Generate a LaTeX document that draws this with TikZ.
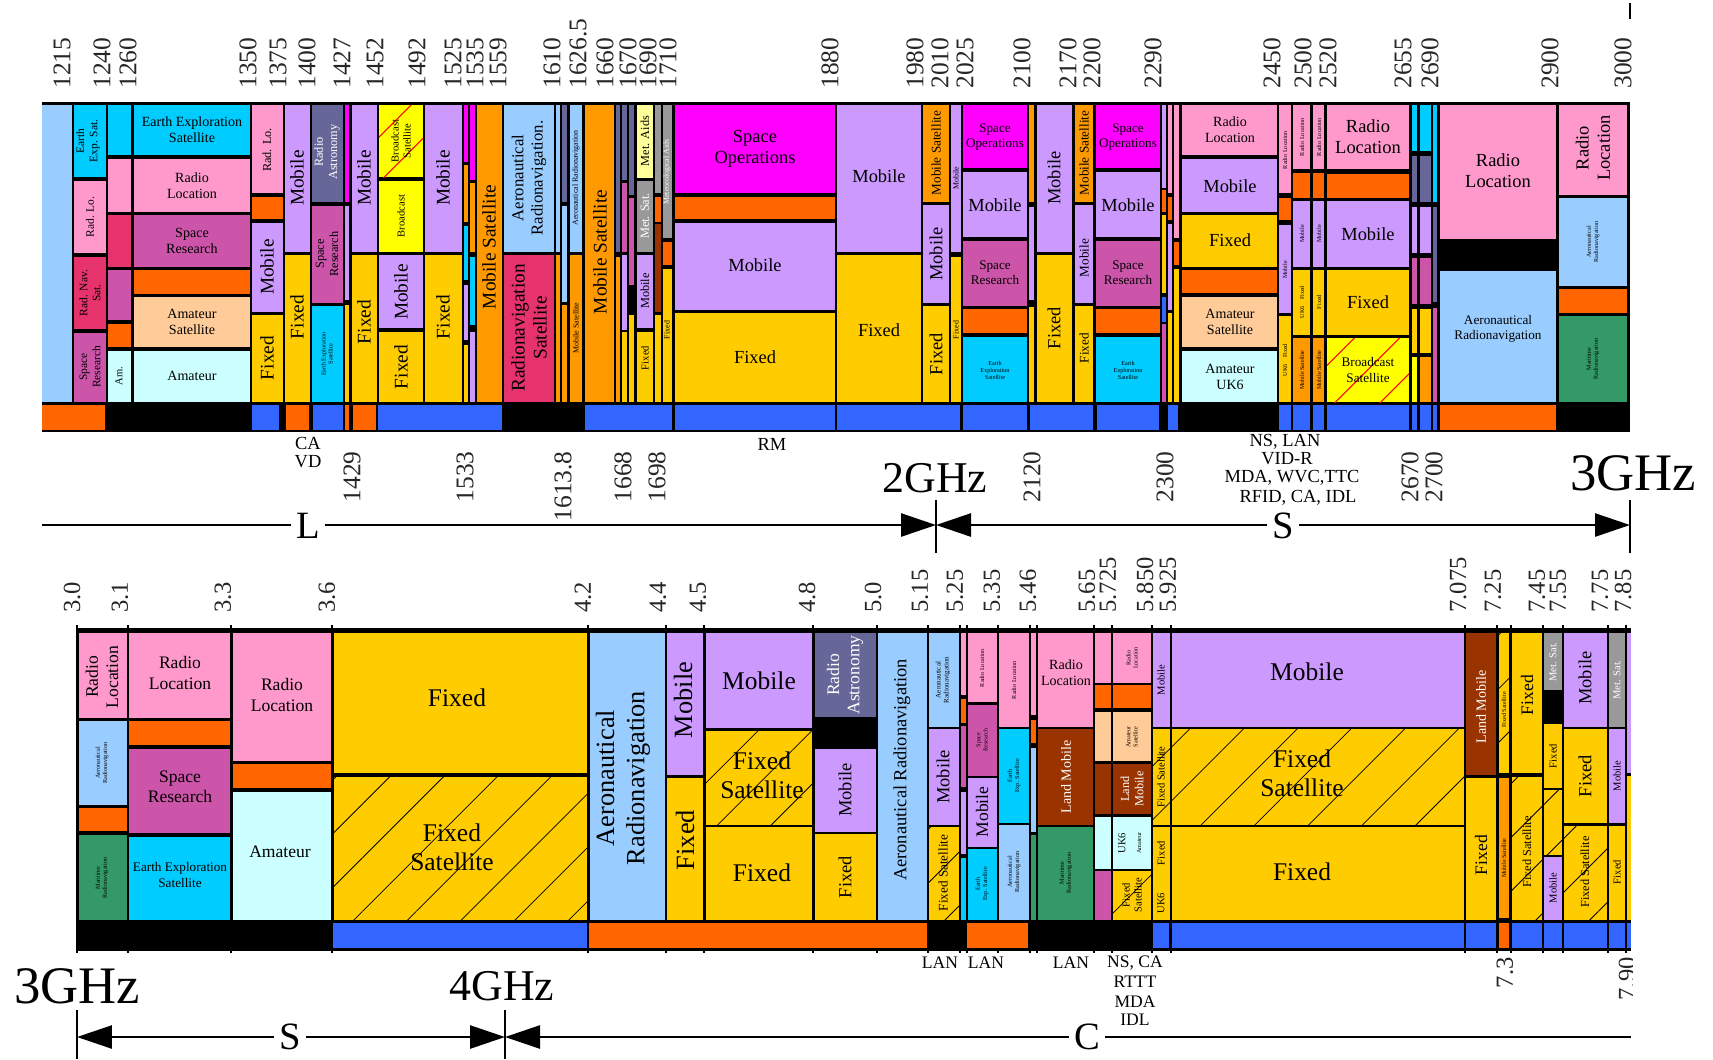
\documentclass[tikz,border=0pt]{standalone}
\usepackage{fontspec}
\setmainfont{Liberation Serif}
\usetikzlibrary{arrows.meta,patterns.meta}
\definecolor{cAer}{HTML}{99CCFF}
\definecolor{cEES}{HTML}{00CCFF}
\definecolor{cRL}{HTML}{FF99CC}
\definecolor{cRNS}{HTML}{E6336E}
\definecolor{cSR}{HTML}{CC55AA}
\definecolor{cOr}{HTML}{FF6600}
\definecolor{cMS}{HTML}{FF9900}
\definecolor{cAS}{HTML}{FFCC99}
\definecolor{cAm}{HTML}{CCFFFF}
\definecolor{cMob}{HTML}{CC99FF}
\definecolor{cFix}{HTML}{FFCC00}
\definecolor{cRA}{HTML}{666699}
\definecolor{cSO}{HTML}{FF00FF}
\definecolor{cBr}{HTML}{FFFF00}
\definecolor{cMA}{HTML}{FFFF99}
\definecolor{cMet}{HTML}{999999}
\definecolor{cLM}{HTML}{993300}
\definecolor{cMR}{HTML}{339966}
\definecolor{cBl}{HTML}{3366FF}
\newcounter{nn}
\newcommand\fsz[1]{\fontsize{#1}{#1}\selectfont\baselineskip=1.15\baselineskip}
\tikzset{
  lbl/.style={inner sep=0pt, align=center},
  rt/.style={rotate=90},
  fsh/.style={pattern={Lines[angle=45,distance=0.76cm,line width=0.45pt]},pattern color=black},
  bsh/.style={pattern={Lines[angle=45,distance=0.64cm,line width=0.6pt]},pattern color=red},
  tk/.style={inner sep=0pt, font=\fsz{14.5}, text=black!85},
  tkb/.style={inner sep=0pt, font=\fsz{14}, text=black!85},
  note/.style={inner sep=0pt, font=\fsz{10.5}},
  band/.style={fill=white, inner sep=3pt, font=\fsz{22}},
  ghz/.style={inner sep=0pt},
  axis/.style={line width=1.5pt},
  tip/.tip={Triangle[length=0.7cm,width=0.46cm]},
  vtick/.style={line width=1.2pt}
}
\newcommand\bk[5]{\fill[#5] (#1,#2) rectangle (#3,#4);}
\newcommand\hb[5]{\fill[#5] (#1,#2) rectangle (#3,#4);\fill[fsh] (#1,#2) rectangle (#3,#4);}
\newcommand\hr[4]{\fill[cBr] (#1,#2) rectangle (#3,#4);\fill[bsh] (#1,#2) rectangle (#3,#4);}
\newcommand\tx[5][]{\stepcounter{nn}\node[lbl,font=\fsz{#4},#1] (t\arabic{nn}) at (#2,#3) {#5};}
\newcommand\tku[2]{\stepcounter{nn}\node[tk,rotate=90,anchor=west] (k\arabic{nn}) at (#1,89) {#2};}
\newcommand\tkd[2]{\stepcounter{nn}\node[tk,rotate=90,anchor=east] (k\arabic{nn}) at (#1,451) {#2};}
\newcommand\tkb[2]{\stepcounter{nn}\node[tkb,rotate=90,anchor=west] (k\arabic{nn}) at (#1,613) {#2};}
\newcommand\tkbd[2]{\stepcounter{nn}\node[tkb,rotate=90,anchor=east] (k\arabic{nn}) at (#1,957) {#2};}
\newcommand\vt[1]{\draw[vtick] (#1,625) -- (#1,953);}
\begin{document}
\begin{tikzpicture}[x=0.02cm,y=-0.02cm]
\useasboundingbox (0,0) rectangle (1713,1059);
% ================= TOP STRIP =================
\fill[black] (42,102) rectangle (1630,432);
\bk{42}{105}{72}{402}{cAer}
\bk{74}{105}{106}{177}{cEES}\bk{74}{181}{106}{253}{cRL}\bk{74}{257}{106}{329}{cRNS}\bk{74}{333}{106}{402}{cSR}
\bk{108}{105}{131}{155}{cEES}\bk{108}{159}{131}{212}{cRL}\bk{108}{215}{131}{267}{cRNS}\bk{108}{270}{131}{320}{cSR}\bk{108}{324}{131}{347}{cOr}\bk{108}{351}{131}{402}{cAm}
\bk{134}{105}{250}{155}{cEES}\bk{134}{159}{250}{212}{cRL}\bk{134}{215}{250}{267}{cSR}\bk{134}{270}{250}{294}{cOr}\bk{134}{297}{250}{347}{cAS}\bk{134}{351}{250}{402}{cAm}
\bk{252}{105}{283}{193}{cRL}\bk{252}{197}{283}{219}{cOr}\bk{252}{223}{283}{312}{cMob}\bk{252}{315}{283}{402}{cFix}
\bk{285}{105}{310}{252}{cMob}\bk{285}{255}{310}{402}{cFix}
\bk{312}{105}{343}{202}{cRA}\bk{312}{206}{343}{303}{cSR}\bk{312}{306}{343}{402}{cEES}
\bk{345}{105}{349}{202}{cSO}\bk{345}{206}{349}{300}{cMob}\bk{345}{305}{349}{402}{cFix}
\bk{352}{105}{377}{252}{cMob}\bk{352}{255}{377}{402}{cFix}
\hr{379}{105}{423}{177}\bk{379}{181}{423}{252}{cBr}\bk{379}{255}{423}{328}{cMob}\bk{379}{332}{423}{402}{cFix}
\bk{425}{105}{462}{252}{cMob}\bk{425}{255}{462}{402}{cFix}
\bk{464}{105}{468}{162}{cSO}\bk{464}{165}{468}{222}{cMS}\bk{464}{226}{468}{280}{cEES}\bk{464}{285}{468}{340}{cMob}\bk{464}{345}{468}{402}{cFix}
\bk{470}{105}{475}{180}{cSO}\bk{470}{183}{475}{252}{cMS}\bk{470}{257}{475}{325}{cEES}\bk{470}{332}{475}{402}{cMob}
\bk{477}{105}{502}{402}{cMS}
\bk{504}{105}{554}{252}{cAer}\bk{504}{255}{554}{402}{cRNS}
\bk{556}{105}{560}{252}{cAer}\bk{556}{255}{560}{402}{cMS}
\bk{562}{105}{567}{202}{cRA}\bk{562}{206}{567}{302}{cAer}\bk{562}{305}{567}{402}{cMS}
\bk{570}{105}{582}{252}{cAer}\bk{570}{255}{582}{402}{cMS}
\bk{585}{105}{614}{402}{cMS}
\bk{616}{105}{620}{252}{cRA}\bk{616}{257}{620}{402}{cMS}
\bk{622}{105}{627}{180}{cRA}\bk{622}{183}{627}{252}{cSR}\bk{622}{255}{627}{330}{cMob}\bk{622}{332}{627}{402}{cFix}
\bk{629}{105}{634}{195}{cRA}\bk{629}{198}{634}{285}{cSR}\bk{629}{315}{634}{402}{cFix}
\bk{637}{105}{653}{178}{cMA}\bk{637}{181}{653}{252}{cMet}\bk{637}{255}{653}{328}{cMob}\bk{637}{332}{653}{402}{cFix}
\bk{655}{105}{661}{193}{cMet}\bk{655}{197}{661}{222}{cOr}\bk{655}{224}{661}{312}{cLM}\bk{655}{315}{661}{402}{cFix}
\bk{663}{105}{672}{238}{cMet}\bk{663}{242}{672}{265}{cOr}\bk{663}{269}{672}{402}{cFix}
\bk{675}{105}{835}{193}{cSO}\bk{675}{197}{835}{219}{cOr}\bk{675}{223}{835}{310}{cMob}\bk{675}{313}{835}{402}{cFix}
\bk{837}{105}{921}{252}{cMob}\bk{837}{255}{921}{402}{cFix}
\bk{923}{105}{949}{202}{cMS}\bk{923}{205}{949}{303}{cMob}\bk{923}{306}{949}{402}{cFix}
\bk{951}{105}{961}{252}{cMob}\bk{951}{257}{961}{402}{cFix}
\bk{963}{105}{1027}{168}{cSO}\bk{963}{172}{1027}{237}{cMob}\bk{963}{241}{1027}{306}{cSR}\bk{963}{309}{1027}{333}{cOr}\bk{963}{337}{1027}{402}{cEES}
\bk{1029}{105}{1034}{202}{cMS}\bk{1029}{207}{1034}{300}{cMob}\bk{1029}{307}{1034}{402}{cFix}
\bk{1037}{105}{1072}{252}{cMob}\bk{1037}{255}{1072}{402}{cFix}
\bk{1075}{105}{1093}{202}{cMS}\bk{1075}{205}{1093}{303}{cMob}\bk{1075}{306}{1093}{402}{cFix}
\bk{1096}{105}{1160}{168}{cSO}\bk{1096}{172}{1160}{237}{cMob}\bk{1096}{241}{1160}{306}{cSR}\bk{1096}{309}{1160}{333}{cOr}\bk{1096}{337}{1160}{402}{cEES}
\bk{1162}{105}{1166}{188}{cMob}\bk{1162}{190}{1166}{212}{cOr}\bk{1162}{215}{1166}{293}{cFix}\bk{1162}{297}{1166}{322}{cBl}\bk{1162}{324}{1166}{402}{cSR}
\bk{1168}{105}{1172}{193}{cRL}\bk{1168}{197}{1172}{220}{cOr}\bk{1168}{224}{1172}{310}{cMob}\bk{1168}{313}{1172}{402}{cFix}
\bk{1174}{105}{1179}{238}{cRL}\bk{1174}{242}{1179}{265}{cOr}\bk{1174}{269}{1179}{402}{cFix}
\bk{1182}{105}{1277}{155}{cRL}\bk{1182}{159}{1277}{212}{cMob}\bk{1182}{215}{1277}{267}{cFix}\bk{1182}{270}{1277}{293}{cOr}\bk{1182}{297}{1277}{347}{cAS}\bk{1182}{351}{1277}{402}{cAm}
\bk{1279}{105}{1291}{193}{cRL}\bk{1279}{198}{1291}{220}{cOr}\bk{1279}{225}{1291}{313}{cMob}\bk{1279}{316}{1291}{402}{cFix}
\bk{1293}{105}{1310}{169}{cRL}\bk{1293}{173}{1310}{198}{cOr}\bk{1293}{201}{1310}{267}{cMob}\bk{1293}{270}{1310}{335}{cFix}\bk{1293}{338}{1310}{402}{cMS}
\bk{1313}{105}{1324}{169}{cRL}\bk{1313}{173}{1324}{198}{cOr}\bk{1313}{201}{1324}{267}{cMob}\bk{1313}{270}{1324}{335}{cFix}\bk{1313}{338}{1324}{402}{cMS}
\bk{1327}{105}{1409}{169}{cRL}\bk{1327}{174}{1409}{198}{cOr}\bk{1327}{201}{1409}{267}{cMob}\bk{1327}{270}{1409}{335}{cFix}\hr{1327}{338}{1409}{402}
\bk{1412}{105}{1417}{151}{cEES}\bk{1412}{156}{1417}{202}{cRA}\bk{1412}{207}{1417}{253}{cMob}\bk{1412}{258}{1417}{304}{cSR}\bk{1412}{309}{1417}{353}{cFix}\bk{1412}{357}{1417}{402}{cBr}
\bk{1420}{105}{1431}{151}{cEES}\bk{1420}{156}{1431}{202}{cRA}\bk{1420}{207}{1431}{253}{cMob}\bk{1420}{258}{1431}{304}{cSR}\bk{1420}{309}{1431}{353}{cFix}\bk{1420}{357}{1431}{402}{cMS}
\bk{1433}{105}{1437}{202}{cEES}\bk{1433}{207}{1437}{302}{cRA}\bk{1433}{308}{1437}{402}{cSR}
\bk{1440}{105}{1556}{239}{cRL}\bk{1440}{271}{1556}{402}{cAer}
\bk{1559}{105}{1627}{195}{cRL}\bk{1559}{198}{1627}{286}{cAer}\bk{1559}{289}{1627}{313}{cOr}\bk{1559}{316}{1627}{402}{cMR}
% top bar
\bk{42}{405}{105}{430}{cOr}\bk{252}{405}{279}{430}{cBl}\bk{286}{405}{309}{430}{cOr}\bk{313}{405}{343}{430}{cBl}
\bk{345}{405}{349}{430}{cOr}\bk{353}{405}{376}{430}{cOr}\bk{378}{405}{502}{430}{cBl}\bk{585}{405}{672}{430}{cBl}
\bk{675}{405}{835}{430}{cBl}\bk{837}{405}{960}{430}{cBl}\bk{963}{405}{1027}{430}{cBl}\bk{1030}{405}{1093}{430}{cBl}
\bk{1097}{405}{1159}{430}{cBl}\bk{1168}{405}{1178}{430}{cBl}\bk{1279}{405}{1291}{430}{cBl}\bk{1293}{405}{1310}{430}{cBl}
\bk{1313}{405}{1324}{430}{cBl}\bk{1327}{405}{1409}{430}{cBl}\bk{1412}{405}{1417}{430}{cBl}\bk{1420}{405}{1431}{430}{cBl}
\bk{1433}{405}{1437}{430}{cBl}\bk{1440}{405}{1556}{430}{cOr}
% top labels
\tx[rt]{88}{141}{6.5}{Earth\\Exp. Sat.}
\tx[rt]{90}{217}{6.5}{Rad. Lo.}
\tx[rt]{90}{293}{6.5}{Rad. Nav.\\Sat.}
\tx[rt]{90}{367}{6.5}{Space\\Research}
\tx[rt]{119}{376}{6}{Am.}
\tx{192}{130}{8}{Earth Exploration\\Satellite}
\tx{192}{186}{8}{Radio\\Location}
\tx{192}{241}{8}{Space\\Research}
\tx{192}{322}{8}{Amateur\\Satellite}
\tx{192}{376}{8}{Amateur}
\tx[rt]{267}{150}{7}{Rad. Lo.}
\tx[rt]{267}{267}{11}{Mobile}
\tx[rt]{267}{358}{11}{Fixed}
\tx[rt]{297}{178}{11}{Mobile}
\tx[rt]{297}{317}{11}{Fixed}
\tx[rt,text=white]{327}{152}{7}{Radio\\Astronomy}
\tx[rt]{327}{254}{7}{Space\\Research}
\tx[rt]{327}{354}{3.5}{Earth Exploration\\Satellite}
\tx[rt]{364}{178}{11}{Mobile}
\tx[rt]{364}{322}{11}{Fixed}
\tx[rt]{401}{141}{6}{Broadcast\\Satellite}
\tx[rt]{401}{216}{6}{Broadcast}
\tx[rt]{401}{292}{11}{Mobile}
\tx[rt]{401}{367}{11}{Fixed}
\tx[rt]{443}{178}{11}{Mobile}
\tx[rt]{443}{317}{11}{Fixed}
\tx[rt]{489}{247}{11}{Mobile Satellite}
\tx[rt]{529}{178}{9.5}{Aeronautical\\Radionavigation.}
\tx[rt]{529}{328}{11}{Radionavigation\\Satellite}
\tx[rt]{576}{178}{4.5}{Aeronautical Radionavigation}
\tx[rt]{576}{328}{4.5}{Mobile Satellite}
\tx[rt]{600}{252}{11}{Mobile Satellite}
\tx[rt]{645}{141}{7}{Met. Aids}
\tx[rt,text=white]{645}{216}{7}{Met. Sat.}
\tx[rt]{645}{291}{7}{Mobile}
\tx[rt]{645}{358}{6}{Fixed}
\tx[rt,text=white]{667}{172}{4.5}{Meteorological Aids}
\tx[rt]{667}{330}{4.5}{Fixed}
\tx{755}{149}{10.5}{Space\\Operations}
\tx{755}{265}{10.5}{Mobile}
\tx{755}{357}{10.5}{Fixed}
\tx{879}{176}{10.5}{Mobile}
\tx{879}{330}{10.5}{Fixed}
\tx[rt]{936}{153}{7.5}{Mobile Satellite}
\tx[rt]{936}{254}{10.5}{Mobile}
\tx[rt]{936}{354}{10.5}{Fixed}
\tx[rt]{956}{178}{4.5}{Mobile}
\tx[rt]{956}{330}{4.5}{Fixed}
\tx{995}{137}{7.5}{Space\\Operations}
\tx{995}{205}{10.5}{Mobile}
\tx{995}{273}{7.5}{Space\\Research}
\tx{995}{370}{3.5}{Earth\\Exploration\\Satellite}
\tx[rt]{1054}{178}{10.5}{Mobile}
\tx[rt]{1054}{328}{10.5}{Fixed}
\tx[rt]{1084}{153}{7.5}{Mobile Satellite}
\tx[rt]{1084}{258}{7.5}{Mobile}
\tx[rt]{1084}{348}{7.5}{Fixed}
\tx{1128}{137}{7.5}{Space\\Operations}
\tx{1128}{205}{10.5}{Mobile}
\tx{1128}{273}{7.5}{Space\\Research}
\tx{1128}{370}{3.5}{Earth\\Exploration\\Satellite}
\tx{1230}{130}{8}{Radio\\Location}
\tx{1230}{186}{10.5}{Mobile}
\tx{1230}{240}{10.5}{Fixed}
\tx{1230}{322}{8}{Amateur\\Satellite}
\tx{1230}{377}{8}{Amateur\\UK6}
\tx[rt]{1285}{150}{3.5}{Radio Location}
\tx[rt]{1285}{270}{3.5}{Mobile}
\tx[rt]{1285}{360}{3.5}{UK6\quad Fixed}
\tx[rt]{1302}{137}{3.5}{Radio Location}
\tx[rt]{1302}{234}{3.5}{Mobile}
\tx[rt]{1302}{302}{3.5}{UK6\quad Fixed}
\tx[rt]{1302}{370}{3.5}{Mobile Satellite}
\tx[rt]{1319}{137}{3.5}{Radio Location}
\tx[rt]{1319}{234}{3.5}{Mobile}
\tx[rt]{1319}{302}{3.5}{Fixed}
\tx[rt]{1319}{370}{3.5}{Mobile Satellite}
\tx{1368}{137}{10.5}{Radio\\Location}
\tx{1368}{234}{10.5}{Mobile}
\tx{1368}{302}{10.5}{Fixed}
\tx{1368}{370}{7.5}{Broadcast\\Satellite}
\tx{1498}{171}{10.5}{Radio\\Location}
\tx{1498}{329}{7.5}{Aeronautical\\Radionavigation}
\tx[rt]{1593}{148}{10.5}{Radio\\Location}
\tx[rt]{1593}{242}{3.5}{Aeronautical\\Radionavigation}
\tx[rt]{1593}{359}{3.5}{Maritime\\Radionavigation}
% top tick labels
\tku{62}{1215}\tku{102}{1240}\tku{128}{1260}\tku{248}{1350}\tku{278}{1375}\tku{307}{1400}
\tku{342}{1427}\tku{375}{1452}\tku{417}{1492}\tku{453}{1525}\tku{475}{1535}\tku{498}{1559}
\tku{552}{1610}\tku{578}{1626.5}\tku{605}{1660}\tku{628}{1670}\tku{648}{1690}\tku{668}{1710}
\tku{830}{1880}\tku{915}{1980}\tku{940}{2010}\tku{965}{2025}\tku{1022}{2100}\tku{1068}{2170}
\tku{1092}{2200}\tku{1153}{2290}\tku{1272}{2450}\tku{1303}{2500}\tku{1328}{2520}\tku{1403}{2655}
\tku{1430}{2690}\tku{1550}{2900}\tku{1623}{3000}
\tkd{352}{1429}\tkd{465}{1533}\tkd{563}{1613.8}\tkd{623}{1668}\tkd{657}{1698}
\tkd{1032}{2120}\tkd{1165}{2300}\tkd{1410}{2670}\tkd{1434}{2700}
\node[note] (ca) at (308,443) {CA};
\node[note] (vd) at (308,462) {VD};
\node[note] (rm) at (772,444) {RM};
\node[note] (n1) at (1285,442) {NS, LAN};
\node[note] (n2) at (1287,459) {VID-R};
\node[note] (n3) at (1292,478) {MDA, WVC,TTC};
\node[note] (n4) at (1298,498) {RFID, CA, IDL};
\node[ghz,font=\fsz{25}] (g2) at (935,478) {2GHz};
\node[ghz,font=\fsz{30}] (g3) at (1633,473) {3GHz};
% top axis
\coordinate (a0) at (42,525);
\coordinate (a2) at (936,525);
\coordinate (a3) at (1630,525);
\coordinate (v2t) at (936,500);
\coordinate (v2b) at (936,553);
\coordinate (v3t) at (1630,500);
\coordinate (v3b) at (1630,553);
\coordinate (v4t) at (1630,3);
\coordinate (v4b) at (1630,19);
\draw[axis,-tip] (a0) -- (a2);
\draw[axis,tip-tip] (a2) -- (a3);
\draw[axis] (v2t) -- (v2b);
\draw[axis] (v3t) -- (v3b);
\draw[axis] (v4t) -- (v4b);
\node[band] (bL) at (308,526) {L};
\node[band] (bS1) at (1283,526) {S};
% ================= BOTTOM STRIP =================
\vt{77}\vt{128}\vt{231}\vt{332}\vt{588}\vt{666}\vt{704}\vt{813}\vt{877}\vt{928}\vt{960}\vt{967}
\vt{998}\vt{1030}\vt{1037}\vt{1094}\vt{1112}\vt{1152}\vt{1171}\vt{1465}\vt{1497}\vt{1511}\vt{1543}
\vt{1563}\vt{1608}\vt{1626}
\fill[black] (77,628) rectangle (1631,951);
\bk{79}{633}{127}{718}{cRL}\bk{79}{721}{127}{805}{cAer}\bk{79}{808}{127}{831}{cOr}\bk{79}{835}{127}{920}{cMR}
\bk{129}{633}{230}{718}{cRL}\bk{129}{721}{230}{745}{cOr}\bk{129}{749}{230}{833}{cSR}\bk{129}{837}{230}{920}{cEES}
\bk{233}{633}{331}{761}{cRL}\bk{233}{764}{331}{788}{cOr}\bk{233}{792}{331}{920}{cAm}
\bk{334}{633}{587}{773}{cFix}\hb{334}{777}{587}{920}{cFix}
\bk{590}{633}{665}{920}{cAer}
\bk{667}{633}{703}{775}{cMob}\bk{667}{778}{703}{920}{cFix}
\bk{706}{633}{812}{728}{cMob}\hb{706}{731}{812}{825}{cFix}\bk{706}{827}{812}{920}{cFix}
\bk{815}{633}{876}{717}{cRA}\bk{815}{749}{876}{832}{cMob}\bk{815}{834}{876}{920}{cFix}
\bk{878}{633}{927}{920}{cAer}
\bk{929}{633}{959}{727}{cAer}\bk{929}{729}{959}{825}{cMob}\hb{929}{827}{959}{920}{cFix}
\bk{961}{633}{966}{695}{cRL}\bk{961}{699}{966}{723}{cOr}\bk{961}{726}{966}{787}{cSR}\bk{961}{792}{966}{854}{cMob}\bk{961}{858}{966}{920}{cEES}
\bk{968}{633}{997}{702}{cRL}\bk{968}{705}{997}{776}{cSR}\bk{968}{778}{997}{847}{cMob}\bk{968}{849}{997}{920}{cEES}
\bk{999}{633}{1029}{727}{cRL}\bk{999}{729}{1029}{823}{cEES}\bk{999}{825}{1029}{920}{cAer}
\bk{1031}{633}{1036}{715}{cRL}\bk{1031}{720}{1036}{743}{cOr}\bk{1031}{748}{1036}{832}{cAer}\bk{1031}{835}{1036}{920}{cMR}
\bk{1038}{633}{1093}{727}{cRL}\bk{1038}{729}{1093}{825}{cLM}\bk{1038}{827}{1093}{920}{cMR}
\bk{1095}{633}{1111}{683}{cRL}\bk{1095}{685}{1111}{708}{cOr}\bk{1095}{712}{1111}{761}{cAS}\bk{1095}{764}{1111}{814}{cLM}\bk{1095}{817}{1111}{869}{cAm}\bk{1095}{871}{1111}{920}{cSR}
\bk{1113}{633}{1151}{683}{cRL}\bk{1113}{685}{1151}{708}{cOr}\bk{1113}{712}{1151}{761}{cAS}\bk{1113}{764}{1151}{814}{cLM}\bk{1113}{817}{1151}{869}{cAm}\hb{1113}{871}{1151}{920}{cFix}
\bk{1153}{633}{1170}{727}{cMob}\hb{1153}{729}{1170}{825}{cFix}\bk{1153}{827}{1170}{920}{cFix}
\bk{1172}{633}{1464}{727}{cMob}\hb{1172}{729}{1464}{825}{cFix}\bk{1172}{827}{1464}{920}{cFix}
\bk{1466}{633}{1496}{775}{cLM}\bk{1466}{778}{1496}{920}{cFix}
\hb{1499}{633}{1509}{773}{cFix}\bk{1499}{778}{1509}{918}{cMS}
\bk{1512}{633}{1542}{773}{cFix}\hb{1512}{777}{1542}{920}{cFix}
\bk{1544}{633}{1562}{690}{cMet}\bk{1544}{724}{1562}{788}{cFix}\hb{1544}{790}{1562}{855}{cFix}\bk{1544}{857}{1562}{920}{cMob}
\bk{1564}{633}{1607}{727}{cMob}\bk{1564}{729}{1607}{823}{cFix}\hb{1564}{826}{1607}{920}{cFix}
\bk{1609}{633}{1625}{727}{cMet}\bk{1609}{729}{1625}{823}{cMob}\bk{1609}{826}{1625}{920}{cFix}
\bk{1627}{633}{1631}{773}{cMob}\bk{1627}{776}{1631}{920}{cFix}
% bottom bar
\bk{333}{923}{587}{948}{cBl}\bk{589}{923}{927}{948}{cOr}\bk{967}{923}{1028}{948}{cOr}
\bk{1153}{923}{1169}{948}{cBl}\bk{1172}{923}{1464}{948}{cBl}\bk{1466}{923}{1496}{948}{cBl}
\bk{1499}{923}{1509}{948}{cOr}\bk{1512}{923}{1542}{948}{cBl}\bk{1544}{923}{1562}{948}{cBl}
\bk{1564}{923}{1607}{948}{cBl}\bk{1609}{923}{1625}{948}{cBl}\bk{1627}{923}{1631}{948}{cBl}
% bottom labels
\tx[rt]{102}{677}{10}{Radio\\Location}
\tx[rt]{102}{763}{3.5}{Aeronautical\\Radionavigation}
\tx[rt]{102}{878}{3.5}{Maritime\\Radionavigation}
\tx{180}{673}{10}{Radio\\Location}
\tx{180}{787}{10}{Space\\Research}
\tx{180}{875}{7.5}{Earth Exploration\\Satellite}
\tx{282}{695}{10}{Radio\\Location}
\tx{280}{852}{10}{Amateur}
\tx{457}{698}{14.5}{Fixed}
\tx{452}{847}{14.5}{Fixed\\Satellite}
\tx[rt]{623}{778}{15}{Aeronautical\\Radionavigation}
\tx[rt]{683}{700}{15}{Mobile}
\tx[rt]{685}{840}{15}{Fixed}
\tx{759}{681}{14.5}{Mobile}
\tx{762}{775}{14.5}{Fixed\\Satellite}
\tx{762}{873}{14.5}{Fixed}
\tx[rt,text=white]{845}{675}{10}{Radio\\Astronomy}
\tx[rt]{845}{790}{10.5}{Mobile}
\tx[rt]{845}{877}{10.5}{Fixed}
\tx[rt]{902}{770}{10.5}{Aeronautical Radionavigation}
\tx[rt]{943}{680}{4}{Aeronautical\\Radionavigation}
\tx[rt]{943}{777}{10.5}{Mobile}
\tx[rt]{943}{873}{7.5}{Fixed Satellite}
\tx[rt]{982}{668}{3.5}{Radio Location}
\tx[rt]{982}{740}{3.5}{Space\\Research}
\tx[rt]{982}{812}{10}{Mobile}
\tx[rt]{982}{884}{3.5}{Earth\\Exp. Satellite}
\tx[rt]{1014}{680}{3.5}{Radio Location}
\tx[rt]{1014}{776}{3.5}{Earth\\Exp. Satellite}
\tx[rt]{1014}{872}{3.5}{Aeronautical\\Radionavigation}
\tx{1066}{673}{8}{Radio\\Location}
\tx[rt,text=white]{1066}{777}{8}{Land Mobile}
\tx[rt]{1066}{873}{3.5}{Maritime\\Radionavigation}
\tx[rt]{1132}{658}{3.5}{Radio\\Location}
\tx[rt]{1132}{737}{3.5}{Amateur\\Satellite}
\tx[rt,text=white]{1132}{789}{7}{Land\\Mobile}
\tx[rt]{1122}{843}{6}{UK6}
\tx[rt]{1139}{843}{3.5}{Amateur}
\tx[rt]{1132}{895}{6}{Fixed\\Satellite}
\tx[rt]{1161}{680}{6}{Mobile}
\tx[rt]{1161}{777}{6}{Fixed Satellite}
\tx[rt]{1161}{853}{6}{Fixed}
\tx[rt]{1161}{903}{6}{UK6}
\tx{1307}{672}{14.5}{Mobile}
\tx{1302}{773}{14.5}{Fixed\\Satellite}
\tx{1302}{872}{14.5}{Fixed}
\tx[rt,text=white]{1481}{707}{8}{Land Mobile}
\tx[rt]{1481}{855}{10}{Fixed}
\tx[rt]{1504}{710}{3.5}{Fixed Satellite}
\tx[rt]{1504}{858}{3.5}{Mobile Satellite}
\tx[rt]{1527}{695}{10}{Fixed}
\tx[rt]{1527}{852}{7}{Fixed Satellite}
\tx[rt,text=white]{1553}{662}{6}{Met. Sat.}
\tx[rt]{1553}{756}{6}{Fixed}
\tx[rt]{1553}{888}{6}{Mobile}
\tx[rt]{1585}{678}{10.5}{Mobile}
\tx[rt]{1585}{776}{10.5}{Fixed}
\tx[rt]{1585}{872}{7}{Fixed Satellite}
\tx[rt,text=white]{1617}{680}{6}{Met. Sat.}
\tx[rt]{1617}{776}{6}{Mobile}
\tx[rt]{1617}{872}{6}{Fixed}
% bottom tick labels
\tkb{72}{3.0}\tkb{120}{3.1}\tkb{223}{3.3}\tkb{327}{3.6}\tkb{583}{4.2}\tkb{658}{4.4}\tkb{698}{4.5}
\tkb{807}{4.8}\tkb{873}{5.0}\tkb{920}{5.15}\tkb{955}{5.25}\tkb{992}{5.35}\tkb{1028}{5.46}
\tkb{1087}{5.65}\tkb{1108}{5.725}\tkb{1145}{5.850}\tkb{1168}{5.925}\tkb{1458}{7.075}\tkb{1493}{7.25}
\tkb{1537}{7.45}\tkb{1558}{7.55}\tkb{1600}{7.75}
\begin{scope}
\clip (0,0) rectangle (1632,1059);
\tkb{1623}{7.85}
\tkbd{1627}{7.90}
\end{scope}
\tkbd{1505}{7.3}
\node[note,font=\fsz{10}] (lan1) at (940,963) {LAN};
\node[note,font=\fsz{10}] (lan2) at (986,963) {LAN};
\node[note,font=\fsz{10}] (lan3) at (1071,963) {LAN};
\node[note,font=\fsz{10}] (m1) at (1135,963) {NS, CA};
\node[note,font=\fsz{10}] (m2) at (1135,982) {RTTT};
\node[note,font=\fsz{10}] (m3) at (1135,1002) {MDA};
\node[note,font=\fsz{10}] (m4) at (1135,1020) {IDL};
\node[ghz,font=\fsz{30}] (g3b) at (77,986) {3GHz};
\node[ghz,font=\fsz{25}] (g4) at (502,986) {4GHz};
% bottom axis
\coordinate (b0) at (77,1037);
\coordinate (b4) at (505,1037);
\coordinate (b7) at (1631,1037);
\coordinate (w0t) at (77,1010);
\coordinate (w0b) at (77,1059);
\coordinate (w4t) at (505,1010);
\coordinate (w4b) at (505,1059);
\draw[axis,tip-tip] (b0) -- (b4);
\draw[axis,tip-] (b4) -- (b7);
\draw[axis] (w0t) -- (w0b);
\draw[axis] (w4t) -- (w4b);
\node[band] (bS2) at (290,1037) {S};
\node[band] (bC) at (1087,1037) {C};
\end{tikzpicture}
\end{document}
